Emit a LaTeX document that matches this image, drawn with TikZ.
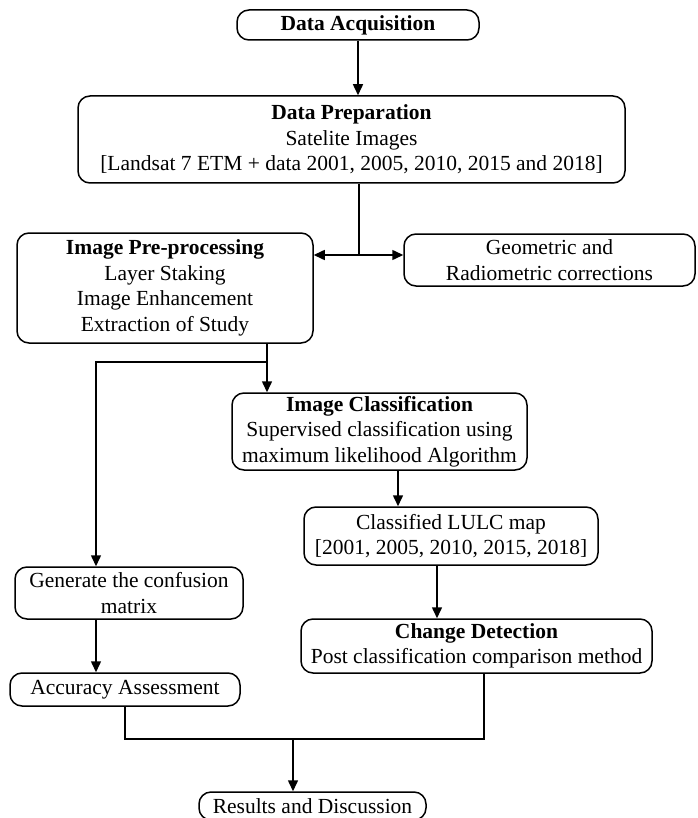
\documentclass[tikz,border=0pt]{standalone}
\usepackage{fontspec}
\setmainfont{Liberation Serif}
\usetikzlibrary{arrows.meta}

\begin{document}
\begin{tikzpicture}[x=1pt, y=-1pt, line width=1.5pt, >={Triangle[length=11pt,width=10pt]},
  blk/.style={draw, rounded corners=12pt, align=center, inner sep=0pt,
    font=\fontsize{21.5}{25.5}\selectfont}]
\useasboundingbox (0,0) rectangle (697,818);
% boxes
\node[blk, minimum width=242, minimum height=30] (acq) at (358,25) {\textbf{Data Acquisition}};
\node[blk, minimum width=547, minimum height=87] (prep) at (351.5,139.5)
  {\textbf{Data Preparation}\\ Satelite Images\\ {[Landsat 7 ETM + data 2001, 2005, 2010, 2015 and 2018]}};
\node[blk, minimum width=296, minimum height=110] (pre) at (165,288)
  {\textbf{Image Pre-processing}\\ Layer Staking\\ Image Enhancement\\ Extraction of Study};
\node[blk, minimum width=291, minimum height=52] (geo) at (549.5,260)
  {Geometric and\\ Radiometric corrections};
\node[blk, minimum width=295, minimum height=77] (cls) at (379.5,431.5)
  {\textbf{Image Classification}\\ Supervised classification using\\ maximum likelihood Algorithm};
\node[blk, minimum width=294, minimum height=58] (map) at (451,536)
  {Classified LULC map\\ {[2001, 2005, 2010, 2015, 2018]}};
\node[blk, minimum width=351, minimum height=54] (chg) at (476.5,646)
  {\textbf{Change Detection}\\ Post classification comparison method};
\node[blk, minimum width=228, minimum height=52] (gen) at (129,593)
  {Generate the confusion\\ matrix};
\node[blk, minimum width=230, minimum height=33] (acc) at (125,689.5) {Accuracy Assessment};
\node[blk, minimum width=227, minimum height=28] (res) at (312.5,806) {Results and Discussion};
% connectors
\coordinate (split) at (359,255);
\coordinate (fork) at (267,362);
\coordinate (left) at (96,362);
\coordinate (join) at (293,739);
\draw[->] (acq.south) -- (acq.south |- prep.north);
\draw (split |- prep.south) -- (split);
\draw[->] (split) -- (split -| pre.east);
\draw[->] (split) -- (split -| geo.west);
\draw (fork |- pre.south) -- (fork);
\draw[->] (fork) -- (fork |- cls.north);
\draw[->] (fork) -- (left) -- (left |- gen.north);
\draw[->] (left |- gen.south) -- (left |- acc.north);
\draw[->] ([xshift=18.5pt]cls.south) -- ([xshift=18.5pt]cls.south |- map.north);
\draw[->] ([xshift=-14pt]map.south) -- ([xshift=-14pt]map.south |- chg.north);
\draw (acc.south) |- (join) -| ([xshift=7.5pt]chg.south);
\draw[->] (join) -- (join |- res.north);
\end{tikzpicture}
\end{document}
